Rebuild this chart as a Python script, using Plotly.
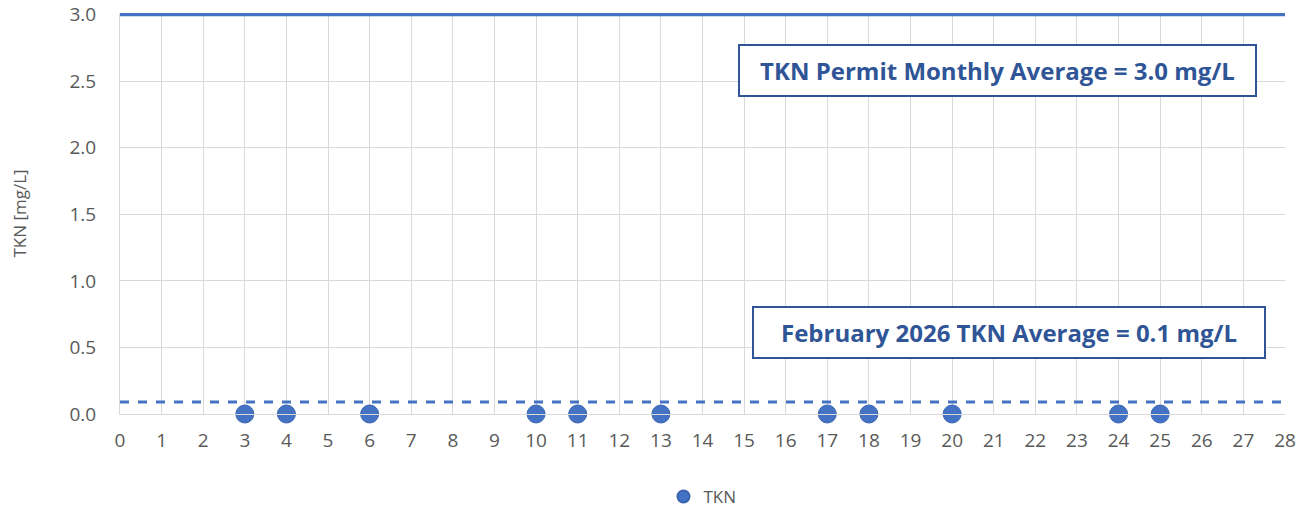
import plotly.graph_objects as go

days = [3, 4, 6, 10, 11, 13, 17, 18, 20, 24, 25]
tkn = [0, 0, 0, 0, 0, 0, 0, 0, 0, 0, 0]
line_x = [0, 28]
permit = [3.0, 3.0]
month_avg = [0.09, 0.09]
x_ticks = list(range(0, 29))
y_ticks = [0.0, 0.5, 1.0, 1.5, 2.0, 2.5, 3.0]

BLUE = "#4472C4"
DARK = "#2F5597"
FONT = "Open Sans"

fig = go.Figure()
fig.add_trace(go.Scatter(x=line_x, y=permit, mode="lines", line=dict(color=BLUE, width=3.5),
                         showlegend=False, hoverinfo="skip", cliponaxis=False))
fig.add_trace(go.Scatter(x=line_x, y=month_avg, mode="lines",
                         line=dict(color=BLUE, width=3, dash="dash"),
                         showlegend=False, hoverinfo="skip"))
fig.add_trace(go.Scatter(x=days, y=tkn, mode="markers", name="TKN",
                         marker=dict(color=BLUE, size=18, line=dict(color="#3A64B0", width=1)),
                         cliponaxis=False))

fig.add_annotation(x=0.753, y=2.58, xref="paper", yref="y", xanchor="center", yanchor="middle",
                   text="<b>TKN Permit Monthly Average = 3.0 mg/L</b>", showarrow=False,
                   font=dict(family=FONT, size=24, color=DARK), width=497, height=31,
                   bordercolor=DARK, borderwidth=2, borderpad=9, bgcolor="white")
fig.add_annotation(x=0.763, y=0.61, xref="paper", yref="y", xanchor="center", yanchor="middle",
                   text="<b>February 2026 TKN Average = 0.1 mg/L</b>", showarrow=False,
                   font=dict(family=FONT, size=24, color=DARK), width=492, height=31,
                   bordercolor=DARK, borderwidth=2, borderpad=9, bgcolor="white")

fig.update_layout(
    width=1303, height=513,
    margin=dict(l=120, r=18, t=13, b=99, autoexpand=False),
    paper_bgcolor="white", plot_bgcolor="white",
    font=dict(family=FONT, size=17, color="#595959"),
    legend=dict(orientation="h", x=0.5, xanchor="center", y=-0.207, yanchor="middle",
                font=dict(size=17, color="#595959"), itemsizing="constant"),
)
fig.update_xaxes(range=[0, 28], tickvals=x_ticks, ticktext=[str(v) for v in x_ticks],
                 showgrid=True, gridcolor="#D9D9D9", gridwidth=1,
                 showline=True, linecolor="#D9D9D9", linewidth=1, zeroline=False,
                 ticks="", ticklabelstandoff=9, tickfont=dict(size=19), automargin=False)
fig.update_yaxes(range=[0, 3.012], tickvals=y_ticks, ticktext=[f"{v:.1f}" for v in y_ticks],
                 showgrid=True, gridcolor="#D9D9D9", gridwidth=1,
                 showline=True, linecolor="#D9D9D9", linewidth=1, zeroline=False,
                 ticks="", ticklabelstandoff=19, tickfont=dict(size=19), automargin=False,
                 title=dict(text="TKN [mg/L]", font=dict(size=17, color="#595959"), standoff=38))

fig.write_html("out.html", post_script="document.body.style.margin='0';",
               config={"displayModeBar": False})
